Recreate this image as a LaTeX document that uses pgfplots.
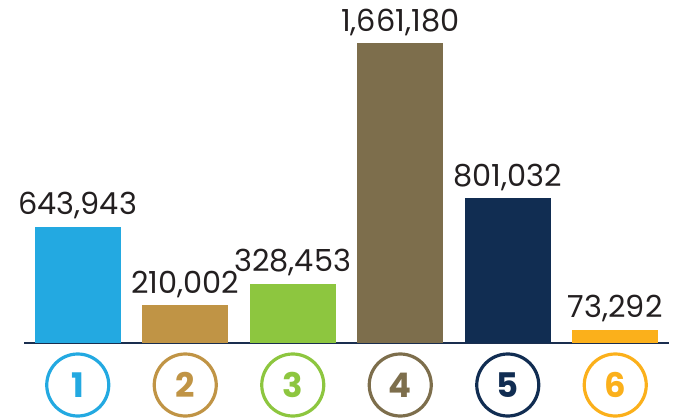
\documentclass[border=0pt]{standalone}
\usepackage{pgfplots}
\pgfplotsset{compat=1.18}
\usepackage{fontspec}
\setmainfont{Poppins}

\definecolor{cA}{HTML}{23A9E1}
\definecolor{cB}{HTML}{C09445}
\definecolor{cC}{HTML}{8DC63F}
\definecolor{cD}{HTML}{7D6E4C}
\definecolor{cE}{HTML}{112D52}
\definecolor{cF}{HTML}{FBB01B}
\definecolor{txt}{HTML}{231F20}
\definecolor{base}{HTML}{1A2E4F}

% circled category number under each bar
\newcommand{\circnum}[2]{\tikz\node[circle,draw=#1,line width=3.2bp,minimum size=62bp,
  inner sep=0pt,text=#1,font=\fontsize{34}{34}\selectfont\bfseries]{#2};}

\begin{document}
\begin{tikzpicture}
\useasboundingbox (0,0) rectangle (678bp,419bp);
\begin{axis}[
    at={(24bp,76bp)}, anchor=south west,
    scale only axis, width=645bp, height=343bp,
    xmin=-0.5, xmax=5.5, ymin=0, ymax=1899283,
    axis x line=bottom, axis y line=none,
    axis line style={base, line width=1.2bp, -},
    xtick={0,...,5}, major tick length=0pt,
    xticklabels={\circnum{cA}{1},\circnum{cB}{2},\circnum{cC}{3},
                 \circnum{cD}{4},\circnum{cE}{5},\circnum{cF}{6}},
    xticklabel style={anchor=center, yshift=-42bp, inner sep=0pt},
    ybar, bar width=0.8, bar shift=0pt,
    every axis plot/.append style={draw=none},
    nodes near coords={\pgfmathprintnumber[assume math mode=true,fixed,precision=0,1000 sep={,}]{\pgfplotspointmeta}},
    nodes near coords style={font=\fontsize{30.5}{30.5}\selectfont, text=txt, anchor=south, yshift=4bp},
    clip=false,
]
\addplot[fill=cA] coordinates {(0,643943)};
\addplot[fill=cB] coordinates {(1,210002)};
\addplot[fill=cC] coordinates {(2,328453)};
\addplot[fill=cD] coordinates {(3,1661180)};
\addplot[fill=cE] coordinates {(4,801032)};
\addplot[fill=cF] coordinates {(5,73292)};
\end{axis}
\end{tikzpicture}
\end{document}
